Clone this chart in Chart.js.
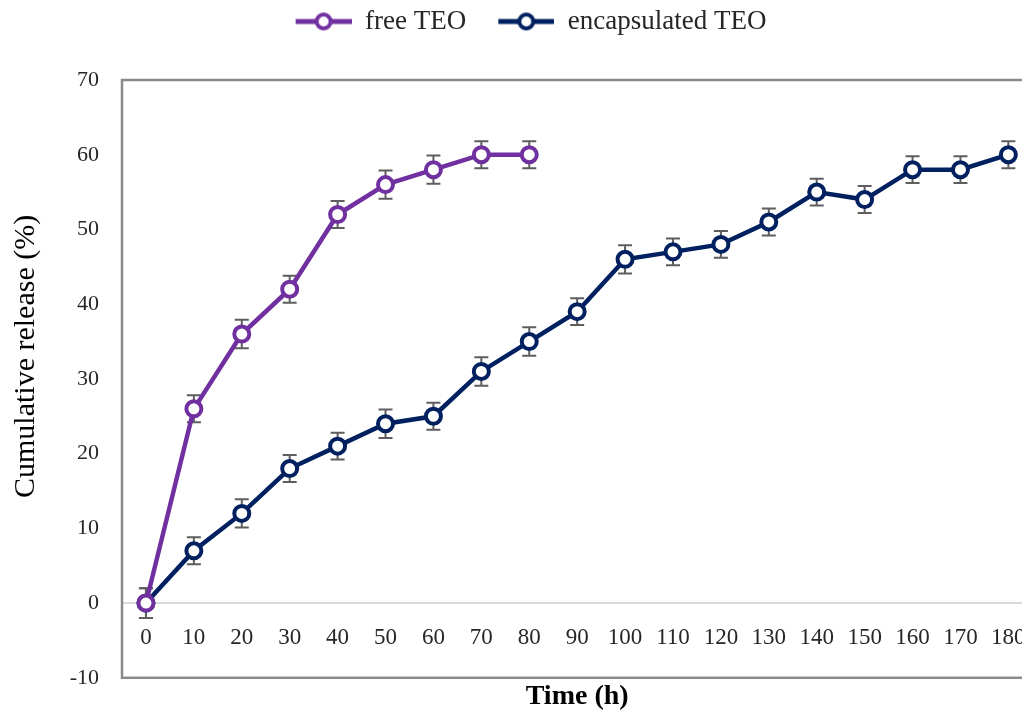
<!DOCTYPE html>
<html>
<head>
<meta charset="utf-8">
<title>Cumulative release of TEO</title>
<script src="https://cdn.jsdelivr.net/npm/chart.js@4.4.0/dist/chart.umd.min.js"></script>
<style>
  html, body { margin: 0; padding: 0; overflow: hidden; background: #ffffff; }
  #wrap { width: 1047px; height: 714px; }
</style>
</head>
<body>
<div id="wrap"><canvas id="releaseChart" width="1047" height="714"></canvas></div>
<script>
// Sampling times (h)
const timeLabels = ['0', '10', '20', '30', '40', '50', '60', '70', '80', '90',
  '100', '110', '120', '130', '140', '150', '160', '170', '180'];

// Cumulative release (%) and standard deviations
const freeTEO = [0, 26, 36, 42, 52, 56, 58, 60, 60];
const freeErr = [2, 1.8, 1.9, 1.8, 1.8, 1.9, 1.9, 1.8, 1.8];

const encapsulatedTEO = [0, 7, 12, 18, 21, 24, 25, 31, 35, 39, 46, 47, 48, 51, 55, 54, 58, 58, 60];
const encapsulatedErr = [2, 1.8, 1.9, 1.8, 1.8, 1.9, 1.8, 1.9, 1.9, 1.8, 1.9, 1.8, 1.8, 1.8, 1.8, 1.8, 1.8, 1.8, 1.8];

// Y axis range
const yMin = -10;
const yMax = 70;
const yStep = 10;

const PURPLE = '#7030A0';
const NAVY = '#002060';

Chart.defaults.font.family = "'Liberation Serif', 'Times New Roman', serif";
Chart.defaults.color = '#262626';

// Legend symbol: a short line with an open circle, drawn to the right of a blank lead-in
function legendSymbol(color) {
  const c = document.createElement('canvas');
  c.width = 80; c.height = 20;
  const g = c.getContext('2d');
  g.strokeStyle = color;
  g.lineWidth = 5;
  g.beginPath(); g.moveTo(24, 10); g.lineTo(80, 10); g.stroke();
  g.beginPath(); g.arc(52, 10, 7, 0, Math.PI * 2);
  g.fillStyle = '#ffffff'; g.fill();
  g.lineWidth = 4; g.stroke();
  return c;
}
const legendSymbols = [legendSymbol(PURPLE), legendSymbol(NAVY)];

// Border round the plot area
const plotFrame = {
  id: 'plotFrame',
  beforeDatasetsDraw(chart) {
    const { ctx, chartArea: a } = chart;
    ctx.save();
    ctx.strokeStyle = '#8a8a8a';
    ctx.lineWidth = 2.5;
    ctx.strokeRect(a.left, a.top, a.right - a.left, a.bottom - a.top);
    ctx.restore();
  }
};

// Vertical error bars with caps
const errorBars = {
  id: 'errorBars',
  beforeDatasetsDraw(chart) {
    const { ctx } = chart;
    const y = chart.scales.y;
    chart.data.datasets.forEach((ds, i) => {
      const meta = chart.getDatasetMeta(i);
      if (meta.hidden) return;
      meta.data.forEach((pt, j) => {
        const v = ds.data[j];
        const e = ds.errors[j];
        const yt = y.getPixelForValue(v + e);
        const yb = y.getPixelForValue(v - e);
        ctx.save();
        ctx.strokeStyle = '#5e5e5e';
        ctx.lineWidth = 2;
        ctx.beginPath();
        ctx.moveTo(pt.x, yt); ctx.lineTo(pt.x, yb);
        ctx.moveTo(pt.x - 7, yt); ctx.lineTo(pt.x + 7, yt);
        ctx.moveTo(pt.x - 7, yb); ctx.lineTo(pt.x + 7, yb);
        ctx.stroke();
        ctx.restore();
      });
    });
  }
};

const seriesStyle = (color) => ({
  xAxisID: 'x',
  yAxisID: 'y',
  borderColor: color,
  backgroundColor: '#ffffff',
  borderWidth: 4.5,
  pointRadius: 7.5,
  pointHoverRadius: 7.5,
  pointBorderWidth: 4,
  pointBackgroundColor: '#ffffff',
  pointBorderColor: color,
  tension: 0,
  fill: false
});

new Chart(document.getElementById('releaseChart'), {
  type: 'line',
  data: {
    labels: timeLabels,
    datasets: [
      Object.assign({ label: 'free TEO', data: freeTEO, errors: freeErr }, seriesStyle(PURPLE)),
      Object.assign({ label: 'encapsulated TEO', data: encapsulatedTEO, errors: encapsulatedErr }, seriesStyle(NAVY))
    ]
  },
  options: {
    responsive: false,
    animation: false,
    devicePixelRatio: 1,
    layout: { padding: { top: 0, right: 9, bottom: 0, left: 0 } },
    plugins: {
      tooltip: { enabled: false },
      legend: {
        position: 'top',
        labels: {
          usePointStyle: true,
          pointStyleWidth: 80,
          padding: 8,
          color: '#262626',
          font: { size: 27 },
          generateLabels(chart) {
            const items = Chart.defaults.plugins.legend.labels.generateLabels(chart);
            items.forEach((it, i) => { it.pointStyle = legendSymbols[i]; });
            return items;
          }
        }
      }
    },
    scales: {
      x: {
        type: 'category',
        offset: true,
        grid: { display: false },
        border: { display: false },
        ticks: { display: false },
        title: {
          display: true,
          text: 'Time (h)',
          color: '#000000',
          font: { size: 28, weight: 'bold' },
          padding: { top: 0, bottom: 0 }
        },
        afterFit(s) { s.height = 36; }
      },
      x2: {
        type: 'category',
        position: { y: 0 },
        offset: true,
        grid: { display: false, drawTicks: false },
        border: { display: false },
        ticks: {
          autoSkip: false,
          maxRotation: 0,
          padding: 21,
          color: '#262626',
          font: { size: 23 }
        }
      },
      xTop: {
        type: 'category',
        position: 'top',
        offset: true,
        grid: { display: false },
        border: { display: false },
        ticks: { display: false },
        afterFit(s) {
          const lh = s.chart.legend ? s.chart.legend.height : 0;
          s.height = Math.max(0, 80 - lh);
        }
      },
      y: {
        min: yMin,
        max: yMax,
        ticks: {
          stepSize: yStep,
          padding: 23,
          color: '#262626',
          font: { size: 22 }
        },
        grid: {
          drawTicks: false,
          lineWidth: 2,
          color: (c) => (c.tick && c.tick.value === 0 ? '#d9d9d9' : 'rgba(0,0,0,0)')
        },
        border: { display: false },
        title: {
          display: true,
          // leading spaces lift the rotated title slightly above the plot's mid-height
          text: '      Cumulative release (%)',
          color: '#000000',
          font: { size: 30, lineHeight: 1 },
          padding: { top: 11, bottom: 0 }
        },
        afterFit(s) { s.width = 122; }
      }
    }
  },
  plugins: [plotFrame, errorBars]
});
</script>
</body>
</html>
